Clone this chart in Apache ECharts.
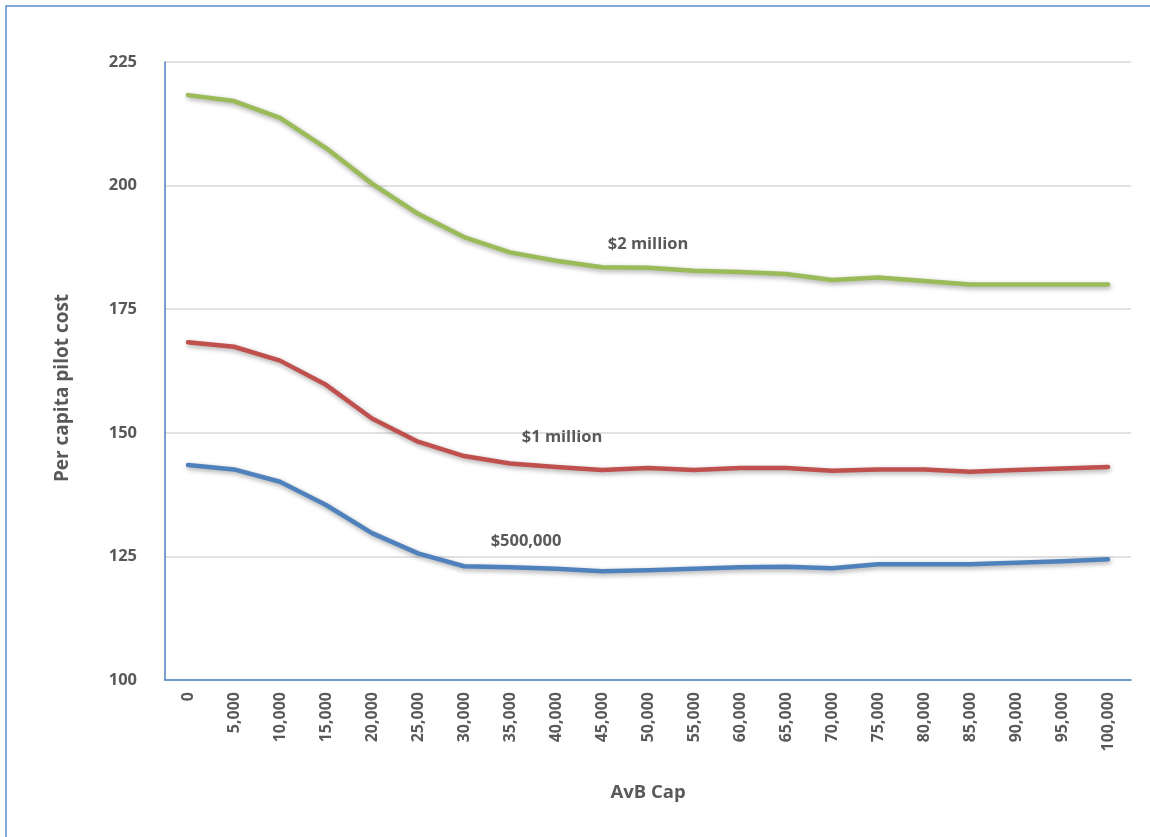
<!DOCTYPE html>
<html>
<head>
<meta charset="utf-8">
<script src="https://cdn.jsdelivr.net/npm/echarts@6/dist/echarts.min.js"></script>
<style>
  html, body { margin: 0; padding: 0; background: #ffffff; }
  #chart { width: 1150px; height: 837px; }
</style>
</head>
<body>
<div id="chart"></div>
<script>
// AvB cap levels (x categories)
const capLabels = ['0', '5,000', '10,000', '15,000', '20,000', '25,000', '30,000', '35,000', '40,000',
  '45,000', '50,000', '55,000', '60,000', '65,000', '70,000', '75,000', '80,000', '85,000',
  '90,000', '95,000', '100,000'];

// Per capita pilot cost for each pilot budget
const cost2Million = [218.3, 217.1, 213.7, 207.6, 200.4, 194.3, 189.6, 186.5, 184.8, 183.5, 183.4,
  182.8, 182.5, 182.1, 180.9, 181.4, 180.7, 180.0, 180.0, 180.0, 180.0];
const cost1Million = [168.3, 167.4, 164.6, 159.7, 152.9, 148.2, 145.3, 143.8, 143.1, 142.5, 142.9,
  142.5, 142.9, 142.9, 142.3, 142.6, 142.6, 142.1, 142.5, 142.8, 143.1];
const cost500k = [143.5, 142.6, 140.1, 135.4, 129.7, 125.6, 123.0, 122.8, 122.5, 122.0, 122.2,
  122.5, 122.8, 122.9, 122.6, 123.4, 123.4, 123.4, 123.7, 124.0, 124.4];

// Y axis ticks
const yTicks = [100, 125, 150, 175, 200, 225];

// Series names and the point each name label sits on
const seriesNames = ['$2 million', '$1 million', '$500,000'];
const labelIndex = [10, 8, 7];

const FONT = '"Open Sans", Lato, sans-serif';
const TEXT = '#595959';

function withLabel(values, idx, name) {
  return values.map((v, i) => i === idx ? {
    value: v,
    label: {
      show: true, position: 'top', distance: 5, formatter: name,
      fontFamily: FONT, fontWeight: 'bold', fontSize: 16.5, color: TEXT
    }
  } : v);
}

function lineSeries(name, values, color, idx, shift) {
  return {
    name: name,
    type: 'line',
    data: withLabel(values, idx, name),
    showSymbol: true,
    showAllSymbol: true,
    symbol: 'circle',
    symbolSize: 2,
    smooth: false,
    silent: true,
    // nudge the series name label off its anchor point
    labelLayout: { hideOverlap: false, dx: shift[0], dy: shift[1] },
    lineStyle: {
      color: color, width: 4.5, cap: 'round', join: 'round',
      shadowColor: 'rgba(0,0,0,0.35)', shadowBlur: 5, shadowOffsetX: 1, shadowOffsetY: 2
    },
    itemStyle: { color: color, borderWidth: 0 },
    emphasis: { disabled: true }
  };
}

const chart = echarts.init(document.getElementById('chart'), null, { renderer: 'canvas' });

chart.setOption({
  animation: false,
  backgroundColor: '#ffffff',
  graphic: [{
    type: 'rect',
    shape: { x: 6, y: 6, width: 1160, height: 850 },
    style: { fill: 'none', stroke: '#5b8bd0', lineWidth: 1.5 },
    silent: true,
    z: 0
  }],
  grid: { left: 165, right: 19, top: 62, bottom: 157 },
  xAxis: {
    type: 'category',
    data: capLabels,
    boundaryGap: true,
    name: 'AvB Cap',
    nameLocation: 'middle',
    nameGap: 103,
    nameTextStyle: { fontFamily: FONT, fontWeight: 'bold', fontSize: 18.5, color: TEXT },
    axisLine: { show: true, lineStyle: { color: '#4f81bd', width: 1.5 } },
    axisTick: { show: false },
    axisLabel: {
      rotate: 90, interval: 0, margin: 12,
      padding: [0, 0, 14, 0],
      fontFamily: FONT, fontWeight: 'bold', fontSize: 16, color: TEXT
    },
    splitLine: { show: false }
  },
  yAxis: {
    type: 'value',
    min: yTicks[0],
    max: yTicks[yTicks.length - 1],
    interval: 25,
    name: 'Per capita pilot cost',
    nameLocation: 'middle',
    nameGap: 93,
    nameTextStyle: { fontFamily: FONT, fontWeight: 'bold', fontSize: 19, color: TEXT, padding: [0, 34, 0, 0] },
    axisLine: { show: true, lineStyle: { color: '#4f81bd', width: 1.5 } },
    axisTick: { show: false },
    axisLabel: { margin: 28, fontFamily: FONT, fontWeight: 'bold', fontSize: 16.5, color: TEXT },
    splitLine: { show: true, lineStyle: { color: '#d9d9d9', width: 1.5 } }
  },
  series: [
    lineSeries(seriesNames[0], cost2Million, '#9bbb59', labelIndex[0], [0, -9]),
    lineSeries(seriesNames[1], cost1Million, '#c0504d', labelIndex[1], [6, -15]),
    lineSeries(seriesNames[2], cost500k, '#4f81bd', labelIndex[2], [16, -11])
  ]
});
</script>
</body>
</html>
